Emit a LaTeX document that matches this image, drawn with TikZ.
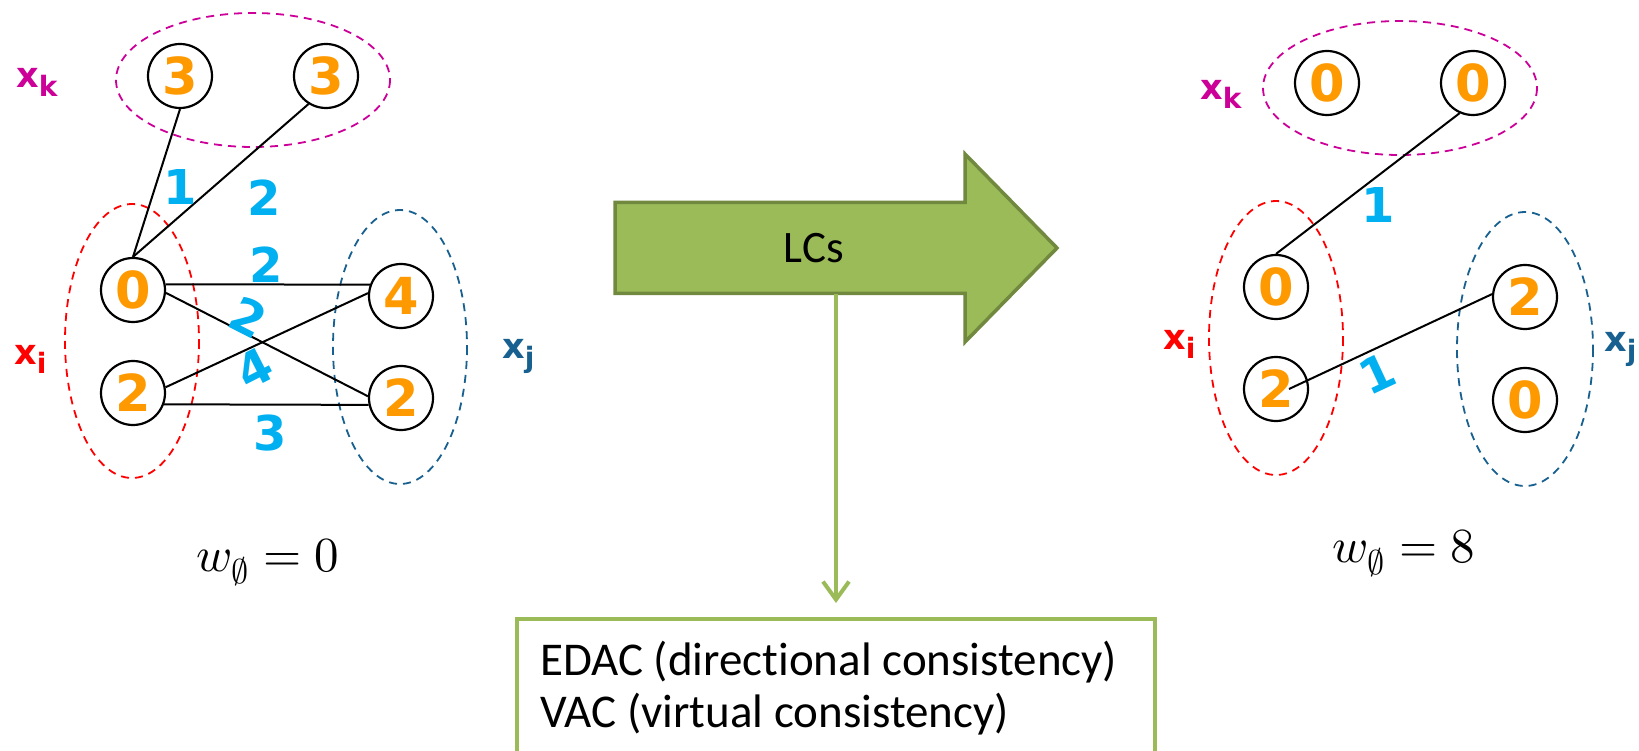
\documentclass[tikz,border=0pt]{standalone}
\usepackage{fontspec}
\usepackage{unicode-math}
\setmathfont{Latin Modern Math}
\usetikzlibrary{arrows.meta,calc}
\newfontfamily\digitfont{DejaVu Sans}
\newfontfamily\calfont{Carlito}[Ligatures={NoCommon}]
\definecolor{numorange}{HTML}{FF9900}
\definecolor{wcyan}{HTML}{00B0F0}
\definecolor{kmag}{HTML}{CC0099}
\definecolor{ired}{HTML}{FF0000}
\definecolor{jblue}{HTML}{17608F}
\definecolor{lcfill}{HTML}{9BBB59}
\definecolor{lcedge}{HTML}{71893F}
\newcommand\varsub[1]{x\raisebox{-9pt}{\fontsize{28}{28}\selectfont #1}}
\begin{document}
\begin{tikzpicture}[x=1pt,y=-1pt,
  val/.style={circle, draw=black, line width=2.2pt, minimum size=64pt, inner sep=0pt,
    text=numorange, font=\digitfont\bfseries\fontsize{51}{51}\selectfont},
  cost/.style={text=wcyan, inner sep=0pt, font=\digitfont\bfseries\fontsize{48}{48}\selectfont},
  grp/.style={dash pattern=on 8pt off 6pt, line width=1.8pt},
  link/.style={draw=black, line width=2pt},
  varlbl/.style={anchor=base west, inner sep=0pt, font=\digitfont\bfseries\fontsize{35}{35}\selectfont},
  wval/.style={anchor=base, inner sep=0pt, font=\fontsize{49}{49}\selectfont},
  boxtext/.style={anchor=base west, inner sep=0pt, font=\calfont\fontsize{47}{47}\selectfont},
  feed/.style={draw=lcfill, line width=4pt, -{Straight Barb[length=18pt, width=26pt]}, shorten >=16pt}]
\useasboundingbox (0,0) rectangle (1639,751);
\clip (0,0) rectangle (1639,751);

% ---------- before: variable groups ----------
\draw[grp, draw=kmag] (253,80) ellipse [x radius=137, y radius=67];
\draw[grp, draw=ired] (132,341) ellipse [x radius=67, y radius=137];
\draw[grp, draw=jblue] (400,347) ellipse [x radius=67, y radius=137];

\node[varlbl, text=kmag] (lxk) at (16,88) {\varsub{k}};
\node[varlbl, text=ired] (lxi) at (14,365) {\varsub{i}};
\node[varlbl, text=jblue] (lxj) at (502,359) {\varsub{j}};

% values with unary costs
\node[val] (lk1) at (180,76) {3};
\node[val] (lk2) at (326,76) {3};
\node[val] (li0) at (133,290) {0};
\node[val] (li2) at (133,393) {2};
\node[val] (lj4) at (401,296) {4};
\node[val] (lj2) at (401,398) {2};

% binary cost edges
\draw[link] (lk1.south) -- (li0.north);
\draw[link] (lk2.238) -- (li0.north);
\draw[link] (li0.10) -- (lj4.160);
\draw[link] (li0.-5) -- (lj2.177);
\draw[link] (li2.10) -- (lj4.175);
\draw[link] (li2.-20) -- (lj2.192);

\node[cost] (lc1) at (180,187) {1};
\node[cost] (lc2) at (264,198) {2};
\node[cost] (lc3) at (266,265) {2};
\node[cost, rotate=-27] (lc4) at (248,317) {2};
\node[cost, rotate=27] (lc5) at (254,368) {4};
\node[cost] (lc6) at (270,433) {3};

\node[wval] (lw) at (268,571) {$w_{\emptyset} = 0$};

% ---------- local consistency arrow ----------
\path[draw=lcedge, fill=lcfill, line width=3.5pt, line join=miter]
  (615,202.5) -- (965,202.5) -- (965,154) -- (1057,248) -- (965,342)
  -- (965,293.5) -- (615,293.5) -- cycle;
\node[inner sep=0pt, minimum height=91pt, font=\calfont\fontsize{45}{45}\selectfont] (lcs) at (814,248) {LCs};

\node[draw=lcfill, line width=4.5pt, anchor=north west, outer sep=0pt, inner sep=0pt,
  minimum width=638pt, minimum height=220pt] (box) at (517,619) {};
\node[boxtext] (t1) at (540,675) {EDAC (directional consistency)};
\node[boxtext] (t2) at (540,727) {VAC (virtual consistency)};
\draw[feed] (lcs.south -| box.north) -- (box.north);

% ---------- after: variable groups ----------
\draw[grp, draw=kmag] (1400,88) ellipse [x radius=137, y radius=67];
\draw[grp, draw=ired] (1276,338) ellipse [x radius=67, y radius=137];
\draw[grp, draw=jblue] (1525,349) ellipse [x radius=68, y radius=137];

\node[varlbl, text=kmag] (rxk) at (1200,100) {\varsub{k}};
\node[varlbl, text=ired] (rxi) at (1163,350) {\varsub{i}};
\node[varlbl, text=jblue] (rxj) at (1604,352) {\varsub{j}};

\node[val] (rk1) at (1327,83) {0};
\node[val] (rk2) at (1473,83) {0};
\node[val] (ri0) at (1276,287) {0};
\node[val] (ri2) at (1276,389) {2};
\node[val] (rj2) at (1525,297) {2};
\node[val] (rj0) at (1525,400) {0};

\draw[link] (rk2.246) -- (ri0.north);
\draw[link] ([xshift=13pt]ri2.center) -- (rj2.175);

\node[cost] (rc1) at (1378,205) {1};
\node[cost, rotate=25] (rc2) at (1377,374) {1};

\node[wval] (rw) at (1404,562) {$w_{\emptyset} = 8$};
\end{tikzpicture}
\end{document}
